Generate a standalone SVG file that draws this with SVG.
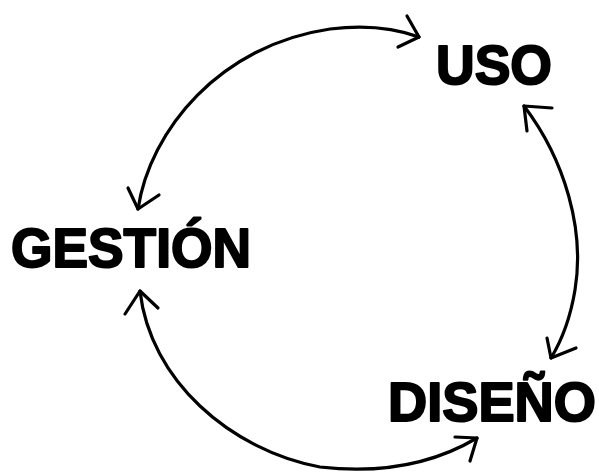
<svg xmlns="http://www.w3.org/2000/svg" width="599" height="472" viewBox="0 0 599 472">
<style>
.lbl{font-family:"Liberation Sans",Arial,sans-serif;font-weight:bold;font-size:55px;fill:#000;stroke:#000;stroke-width:2;stroke-linejoin:round}
.c{fill:none;stroke:#000;stroke-width:3.2;stroke-linecap:round;stroke-linejoin:round}
</style>
<rect width="599" height="472" fill="#fff"/>
<g id="connectors">
<path class="c" d="M138,209 C150,130 220,45 330,29 C370,24 400,30 419,37"/>
<polyline class="c" points="128,188 138,209 159,195"/>
<polyline class="c" points="407,16 419,37 398,47"/>
<path class="c" d="M524,106 C565,160 585,230 575,290 C570,320 562,340 551,358"/>
<polyline class="c" points="552,108 524,106 527,131"/>
<polyline class="c" points="547,338 551,358 576,348"/>
<path class="c" d="M140,291 C150,380 230,450 320,467 C390,475 440,460 477,438"/>
<polyline class="c" points="125,314 140,291 158,308"/>
<polyline class="c" points="455,437 477,438 470,461"/>
</g>
<g id="uso"><text class="lbl" x="436" y="84" textLength="116" lengthAdjust="spacingAndGlyphs">USO</text></g>
<g id="gestion"><text class="lbl" x="11" y="267" textLength="240" lengthAdjust="spacingAndGlyphs">GESTIÓN</text></g>
<g id="diseno"><text class="lbl" x="388" y="421" textLength="208" lengthAdjust="spacingAndGlyphs">DISEÑO</text></g>
</svg>
